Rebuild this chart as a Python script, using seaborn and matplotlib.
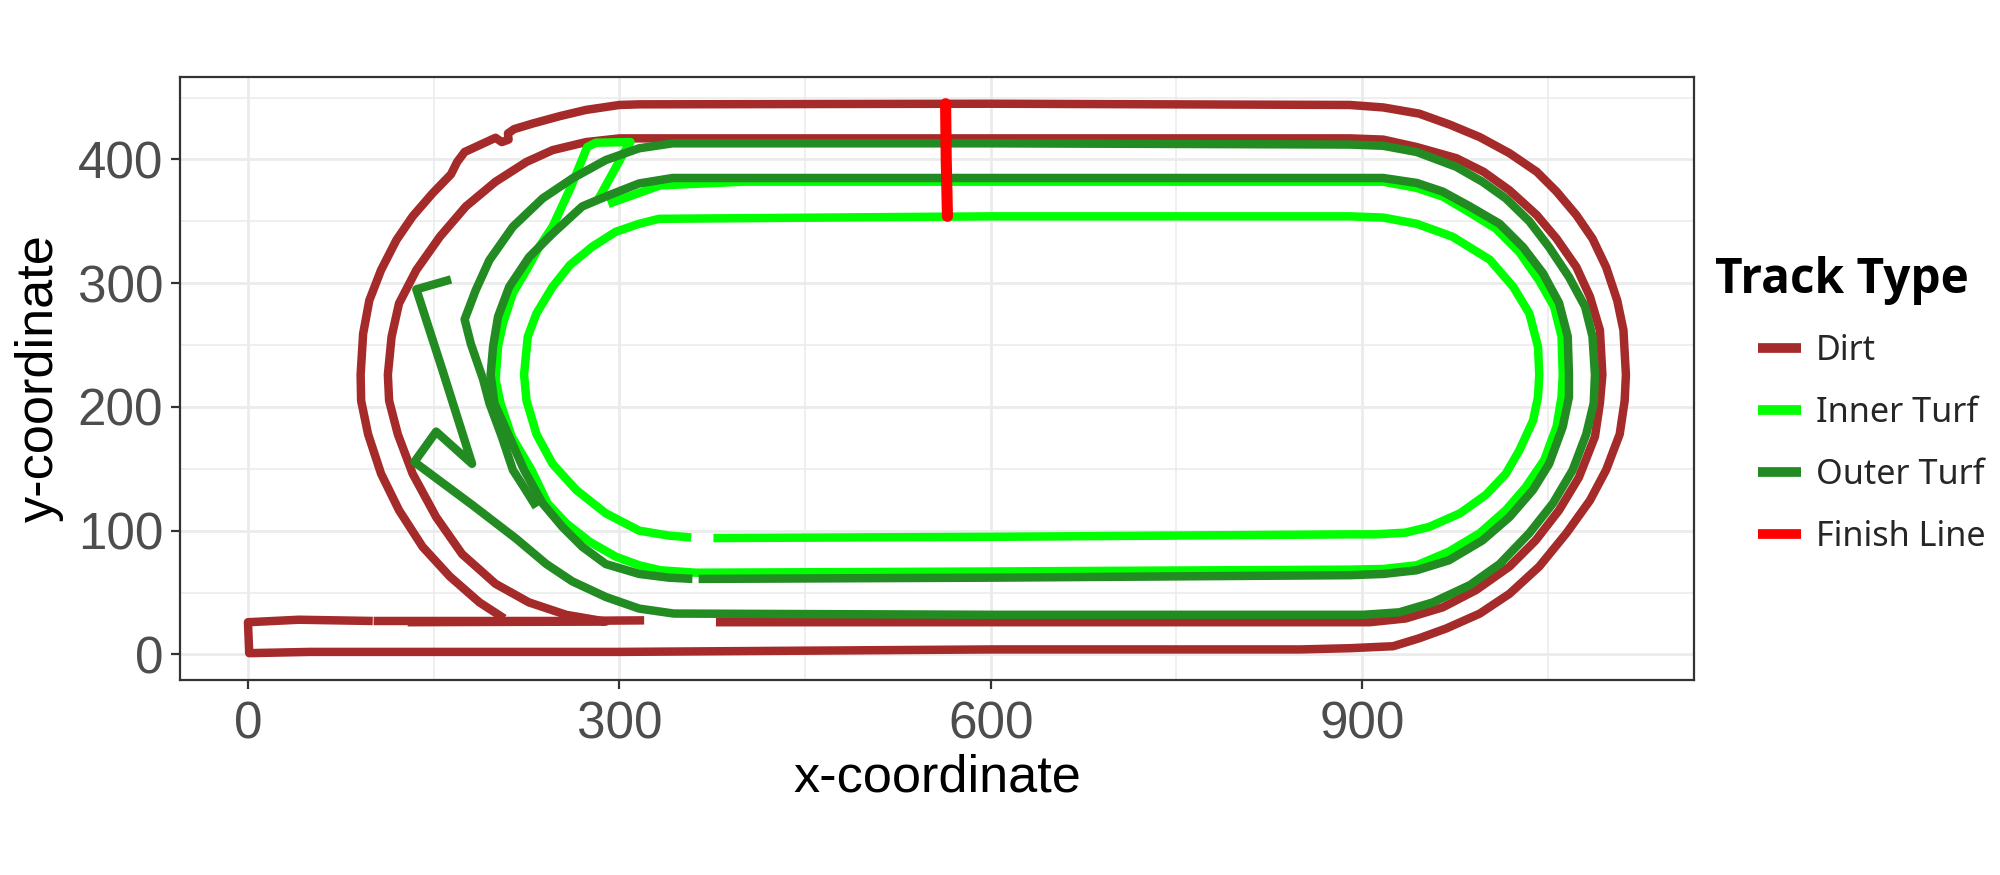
import pandas as pd
import seaborn as sns
import matplotlib.pyplot as plt

# track outlines, one x/y list per drawn path
dirt_start_x = [320, 250, 180, 101.5]
dirt_start_y = [27.5, 27, 27, 27]
dirt_outer_x = [100.8, 41, 0, 1, 50, 300, 600, 850, 890, 925, 946, 968, 995, 1019, 1043, 1065, 1084, 1097, 1108, 1112, 1113, 1111, 1106, 1097, 1086, 1073, 1057, 1041, 1019, 995, 971, 946, 917, 890, 600, 316, 300, 273, 252, 230, 215, 210, 210.5, 205, 200, 175, 169, 164, 149, 133, 120, 107.5, 98, 93, 91, 91.4, 97, 107.5, 122, 141, 163, 187, 207]
dirt_outer_y = [27, 28, 26, 1, 2, 2, 4, 4, 5, 6.6, 13, 21, 33, 49, 71, 98, 124.5, 149, 178, 205, 226, 262, 286, 313, 336, 355, 374, 390, 405, 418, 428, 437, 442, 444, 445, 444.5, 444, 440, 435, 429, 424.5, 421, 416, 414, 417.5, 406, 398, 388, 372.5, 354, 335, 310.6, 286, 259, 226, 205, 178, 146, 116.5, 87, 63, 42, 29]
dirt_inner_x = [378, 600, 890, 906, 935, 965, 992, 1019, 1040, 1059, 1075, 1088, 1092, 1094, 1092, 1084, 1073, 1057, 1041, 1019, 998, 976, 944, 917, 890, 600, 316, 300, 273, 246, 225, 200, 176, 155, 136, 122, 116, 113, 114, 121, 133, 152, 173, 200, 227, 257, 289, 129]
dirt_inner_y = [26, 26, 26, 26, 29, 38, 52, 71, 92, 116.5, 143, 176, 203, 226, 262, 289, 313, 336, 355, 375, 390, 401, 410, 416, 417, 417, 417, 417, 414, 407.5, 398, 382, 362, 337.5, 310.6, 283.6, 256.7, 226, 205, 178, 146, 111, 81, 57, 42, 32, 26.5, 26]

inner_x = [376, 600, 890, 911, 935, 954, 979, 1000, 1016, 1027, 1038, 1042, 1043, 1042, 1035, 1022, 1003, 973, 944, 917, 890, 600, 332, 316, 297, 278, 260, 246, 233, 226, 223, 225, 233, 246, 265, 289, 316, 340, 358]
inner_y = [94, 95, 97, 97, 98.4, 103, 114, 129, 146, 165, 189, 208, 226, 248.6, 275.5, 297, 319, 337.5, 348, 353, 354, 354, 352, 348, 341.5, 329.4, 314.6, 297, 275.5, 256.7, 226, 205, 178, 154, 133, 114, 100, 96, 94.5]
ring_x = [291, 316, 333, 400, 890, 917, 944, 965, 987, 1008, 1027, 1043, 1055, 1061, 1062, 1061, 1057, 1047, 1032, 1016, 995, 970, 944, 917, 890, 600, 362, 333, 316, 297, 276, 257, 242, 229, 213, 204, 200, 202, 206, 214, 225, 235, 246, 261, 274, 281, 309, 304, 282.5]
ring_y = [364, 373, 379, 382, 382, 382, 377, 370, 357, 344, 325, 302, 281, 257, 226, 208, 184, 157, 135, 116.5, 98, 83, 72, 69, 68.5, 67, 66, 68, 72, 79, 91, 106, 122, 149, 176, 203, 222, 249, 267.5, 292, 310.6, 329, 345.6, 378, 410, 413.5, 414, 406, 367]

outer_ring_x = [364, 600, 890, 917, 944, 970, 997, 1019, 1038, 1051, 1062, 1067, 1067, 1066, 1059, 1046, 1030, 1011, 987, 965, 944, 917, 890, 600, 343, 316, 289, 270, 246, 227, 211, 202, 198, 196, 199, 211, 223, 238, 254, 270, 289, 316, 340, 359]
outer_ring_y = [61, 62, 64, 65, 68, 76, 92, 111, 133, 154, 184, 208, 226, 257, 284, 308, 329, 348, 362, 374, 381, 385, 385, 385, 385, 380.6, 370, 362, 340, 321, 297, 273, 249, 226, 203, 176, 149, 122, 103, 87, 73, 65, 62, 61]
outer_main_x = [164, 136, 157, 181, 152, 134.4, 181.5, 216.5, 241, 262, 289, 316, 344, 600, 890, 901, 930, 957, 987, 1011, 1035, 1054, 1070, 1081, 1087, 1088, 1086, 1080, 1067, 1051, 1035, 1016, 997, 976, 944, 917, 890, 600, 343, 316, 289, 262, 238, 214, 195, 184, 175, 180, 190, 195, 205, 214, 223, 233]
outer_main_y = [303, 295, 230, 154, 180, 155.5, 120.5, 93.6, 73, 59, 46.4, 37, 33, 32, 32, 32, 34, 42, 56, 73, 98, 122, 149, 178, 203, 226, 257, 281, 305, 329, 350, 368.5, 382, 394, 406, 411, 412, 413, 413, 409, 399.5, 384.6, 368.5, 345.6, 318.6, 294.4, 270.7, 251, 222, 203, 176, 149, 135, 119]

finish_x = [563.5, 564, 565]
finish_y = [445, 400, 354]

track_names = ["Dirt", "Inner Turf", "Outer Turf", "Finish Line"]
track_colors = ["brown", "#00FF00", "forestgreen", "red"]


def path_frame(xs, ys, track, seg):
    return pd.DataFrame({"x": xs, "y": ys, "track": track, "seg": seg})


plot_df = pd.concat([
    path_frame(dirt_start_x, dirt_start_y, "Dirt", 0),
    path_frame(dirt_outer_x, dirt_outer_y, "Dirt", 1),
    path_frame(dirt_inner_x, dirt_inner_y, "Dirt", 2),
    path_frame(inner_x, inner_y, "Inner Turf", 3),
    path_frame(ring_x, ring_y, "Inner Turf", 4),
    path_frame(outer_ring_x, outer_ring_y, "Outer Turf", 5),
    path_frame(outer_main_x, outer_main_y, "Outer Turf", 6),
    path_frame(finish_x, finish_y, "Finish Line", 7),
])

sns.set_theme(style="whitegrid")
plt.rcParams["font.family"] = ["Liberation Sans", "DejaVu Sans"]

fig = plt.figure(figsize=(10, 4.375), dpi=200)
ax = fig.add_axes([180 / 2000, 1 - 680 / 875, 1514 / 2000, 603 / 875])

sns.lineplot(
    data=plot_df,
    x="x",
    y="y",
    hue="track",
    hue_order=track_names,
    palette=track_colors,
    units="seg",
    estimator=None,
    sort=False,
    linewidth=3.05,
    solid_joinstyle="round",
    solid_capstyle="butt",
    ax=ax,
)

# the finish line is drawn heavier, with round ends
for line in ax.lines:
    if line.get_color() == "red":
        line.set_linewidth(4.0)
        line.set_solid_capstyle("round")

ax.set_xlim(-54.9, 1168)
ax.set_ylim(-20.7, 466.6)
ax.set_xticks([0, 300, 600, 900])
ax.set_yticks([0, 100, 200, 300, 400])
ax.set_xticks([150, 450, 750, 1050], minor=True)
ax.set_yticks([50, 150, 250, 350, 450], minor=True)
ax.grid(which="major", color="#EBEBEB", linewidth=1.0)
ax.grid(which="minor", color="#EBEBEB", linewidth=0.55)
ax.set_axisbelow(True)
ax.tick_params(which="major", length=3.2, width=0.8, color="#333333", labelcolor="#4D4D4D", labelsize=18.4, pad=4.3, bottom=True, left=True)
ax.tick_params(axis="y", which="major", pad=2.8)
ax.tick_params(which="minor", length=0)
for spine in ax.spines.values():
    spine.set_color("#333333")
    spine.set_linewidth(0.8)

ax.set_xlabel("x-coordinate", fontsize=18.8, color="black", labelpad=1.5)
ax.set_ylabel("y-coordinate", fontsize=18.8, color="black", labelpad=5)

sns.move_legend(
    ax,
    "upper left",
    bbox_to_anchor=(1758 / 2000, 1 - 333.5 / 875),
    bbox_transform=fig.transFigure,
    title=None,
    frameon=False,
    handlelength=1.26,
    handletextpad=0.44,
    labelspacing=0.82,
    borderpad=0,
    borderaxespad=0,
    prop={"family": "Noto Sans", "size": 12.3},
)
for handle in ax.get_legend().get_lines():
    handle.set_linewidth(3.5)
    handle.set_solid_capstyle("butt")

fig.text(1715 / 2000, 1 - 280.5 / 875, "Track Type", fontsize=17.2, fontweight="bold", family="Open Sans", va="center", ha="left", color="black")

fig.savefig("out.png", dpi=200)
plt.close(fig)
